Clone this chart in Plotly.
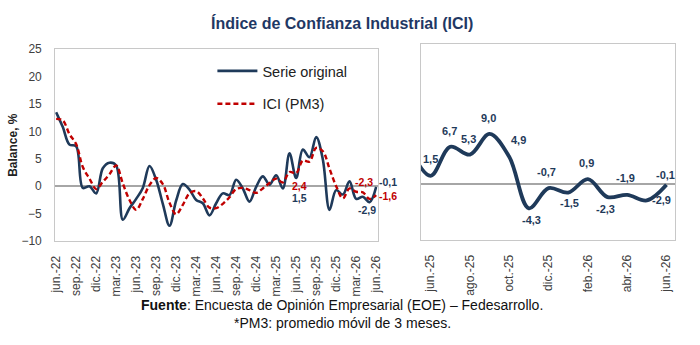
import plotly.graph_objects as go

# ---------------- data ----------------
mes_abbr = ["ene.", "feb.", "mar.", "abr.", "may.", "jun.", "jul.", "ago.", "sep.", "oct.", "nov.", "dic."]
meses = []
for yr in range(22, 27):
    for m in mes_abbr:
        meses.append(f"{m}-{yr}")
meses = meses[meses.index("jun.-22"):meses.index("jun.-26") + 1]

serie_original = [13.5, 10.8, 7.6, 7.3, -0.3, 0.0, -1.3, 3.3, 4.3, 3.8,
                  -6.1, -4.0, -2.3, -0.3, 3.7, 1.2, -3.2, -7.2, -2.6, 0.4,
                  -0.6, -2.5, -3.1, -5.3, -3.1, -1.3, -1.6, 1.2, -0.4, -2.8,
                  -0.1, 1.8, 0.3, 2.0, -0.4, 6.0, 1.5, 6.7, 5.3, 9.0,
                  4.9, -4.3, -0.7, -1.5, 0.9, -2.3, -1.9, -2.9, -0.1]

ici_pm3 = [12.3, 12.0, 9.5, 7.7, 3.5, 1.4, -0.5, 0.8, 2.2, 3.8,
           0.5, -2.5, -4.3, -2.3, 0.2, 1.5, 0.4, -3.0, -5.1, -3.4,
           -1.3, -0.9, -2.2, -3.9, -4.0, -3.2, -2.0, -0.5, -0.3, -0.7,
           -1.2, -0.4, 0.6, 1.4, 0.7, 2.6, 2.4, 4.7, 4.5, 7.0,
           6.4, 3.2, 0.0, -2.2, -0.4, -1.0, -1.1, -2.3, -1.6]

ticks_izq = meses[::3]
ticks_der = ["jun.-25", "ago.-25", "oct.-25", "dic.-25", "feb.-26", "abr.-26", "jun.-26"]

inicio_der = meses.index("may.-25")
meses_der = meses[inicio_der:]
serie_der = serie_original[inicio_der:]
etiquetas_der = meses[meses.index("jun.-25"):]

# label placement (style): (dx, dy) in pixels for right-panel labels
pos_der = {"jun.-25": (0, 17), "jul.-25": (-1, 16), "ago.-25": (-1, 16), "sep.-25": (-1, 16),
           "oct.-25": (9, 17), "nov.-25": (3, -12), "dic.-25": (-2, 16), "ene.-26": (1, -10),
           "feb.-26": (-1, 16), "mar.-26": (-2, -12), "abr.-26": (-2, 17), "may.-26": (15, 0),
           "jun.-26": (-1, 10)}

AZUL = "#1f3a5a"
ROJO = "#c00000"
GRIS = "#404040"
FONT = "Liberation Sans"

def fmt(v):
    return f"{v:.1f}".replace(".", ",")

fig = go.Figure()

fig.add_trace(go.Scatter(x=meses, y=serie_original, mode="lines", name="Serie original",
                         line=dict(color=AZUL, width=2.6, shape="spline", smoothing=1.0),
                         legendgroup="a", xaxis="x", yaxis="y"))
fig.add_trace(go.Scatter(x=meses, y=ici_pm3, mode="lines", name="ICI (PM3)",
                         line=dict(color=ROJO, width=2.4, dash="5px,3px", shape="spline", smoothing=1.0),
                         legendgroup="b", xaxis="x", yaxis="y"))
fig.add_trace(go.Scatter(x=meses_der, y=serie_der, mode="lines", showlegend=False,
                         line=dict(color=AZUL, width=3.8, shape="spline", smoothing=1.0),
                         xaxis="x2", yaxis="y2"))

annotations = []
# right panel labels
for m in etiquetas_der:
    v = serie_original[meses.index(m)]
    dx, dy = pos_der[m]
    annotations.append(dict(x=m, y=v, xref="x2", yref="y2", text=f"<b>{fmt(v)}</b>",
                            showarrow=False, xshift=dx, yshift=dy,
                            font=dict(family=FONT, size=11, color=AZUL)))

# left panel labels
izq = [("jun.-25", serie_original, AZUL, 3, -20), ("jun.-25", ici_pm3, ROJO, 3, -13),
       ("may.-26", ici_pm3, ROJO, -6, 17), ("may.-26", serie_original, AZUL, -3, -8),
       ("jun.-26", serie_original, AZUL, 12, 5), ("jun.-26", ici_pm3, ROJO, 12, -1)]
for m, s, c, dx, dy in izq:
    v = s[meses.index(m)]
    annotations.append(dict(x=m, y=v, xref="x", yref="y", text=f"<b>{fmt(v)}</b>",
                            showarrow=False, xshift=dx, yshift=dy, xanchor="center",
                            font=dict(family=FONT, size=10.5, color=c)))

annotations.append(dict(x=342 / 700, y=1 - 17 / 345, xref="paper", yref="paper", yanchor="middle",
                        text="<b>Índice de Confianza Industrial (ICI)</b>", showarrow=False,
                        font=dict(family=FONT, size=16, color="#1f3864")))
annotations.append(dict(x=342 / 700, y=1 - 311 / 345, xref="paper", yref="paper", yanchor="middle",
                        text="<b>Fuente</b>: Encuesta de Opinión Empresarial (EOE) – Fedesarrollo.",
                        showarrow=False, font=dict(family=FONT, size=14, color="#111111")))
annotations.append(dict(x=342 / 700, y=1 - 329 / 345, xref="paper", yref="paper", yanchor="middle",
                        text="*PM3: promedio móvil de 3 meses.",
                        showarrow=False, font=dict(family=FONT, size=14, color="#111111")))

axis_common = dict(showgrid=False, showline=True, mirror=True, linecolor="#c8c8c8", linewidth=1,
                   ticks="", tickfont=dict(family=FONT, size=12, color=GRIS))

fig.update_layout(
    width=700, height=345,
    margin=dict(l=0, r=0, t=0, b=0),
    paper_bgcolor="white", plot_bgcolor="white",
    showlegend=True,
    legend=dict(x=0.30, y=0.855, xanchor="left", yanchor="top", bgcolor="rgba(0,0,0,0)",
                font=dict(family=FONT, size=14.5, color="#222222"), tracegroupgap=11,
                itemwidth=40),
    xaxis=dict(domain=[50 / 700, 378 / 700], type="category", categoryorder="array",
               categoryarray=meses, range=[-0.15, 48.2], tickvals=ticks_izq, ticktext=ticks_izq,
               tickangle=-90, anchor="y", ticklabelstandoff=9, **axis_common),
    yaxis=dict(domain=[1 - 244 / 345, 1 - 44 / 345], range=[-10, 25], tickvals=list(range(-10, 30, 5)),
               zeroline=True, zerolinecolor="#a6a6a6", zerolinewidth=1.5, anchor="x",
               ticklabelstandoff=10,
               title=dict(text="<b>Balance, %</b>", font=dict(family=FONT, size=12, color="#222222"),
                          standoff=1),
               **axis_common),
    xaxis2=dict(domain=[422 / 700, 681 / 700], type="category", categoryorder="array",
                categoryarray=meses_der, range=[0.5, 13.45], tickvals=ticks_der, ticktext=ticks_der,
                tickangle=-90, anchor="y2", ticklabelstandoff=9, **axis_common),
    yaxis2=dict(domain=[1 - 243 / 345, 1 - 39 / 345], range=[-10, 25], showticklabels=False,
                zeroline=True, zerolinecolor="#a6a6a6", zerolinewidth=1.5, anchor="x2",
                **axis_common),
    annotations=annotations,
)

fig.write_html("out.html")
